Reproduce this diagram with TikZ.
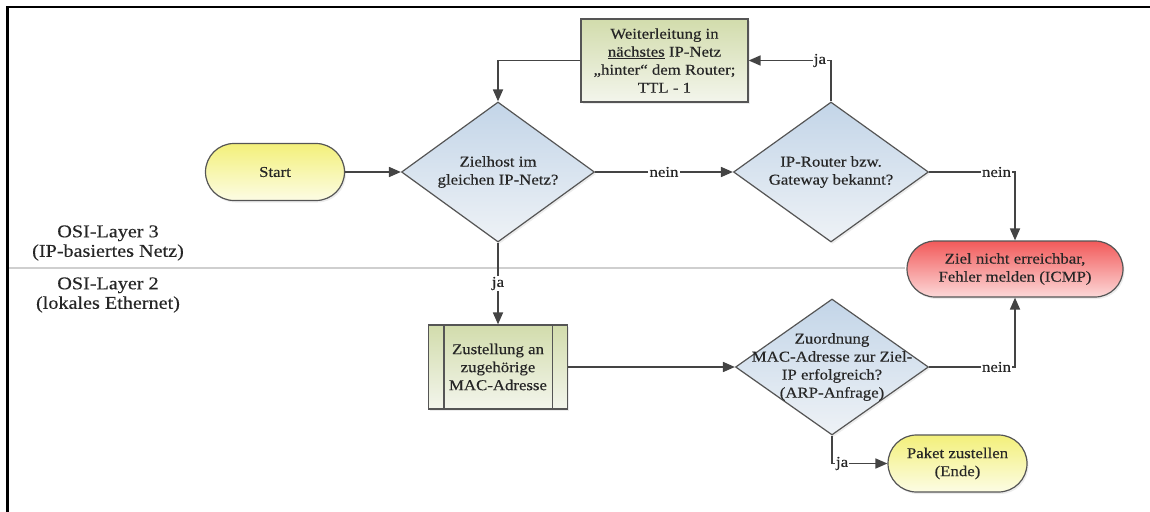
\documentclass[tikz,border=0pt]{standalone}
\usepackage{fontspec}
\setmainfont{Liberation Serif}[FakeStretch=1.12,FakeBold=0.35]
\usetikzlibrary{arrows.meta,shapes.geometric,shapes.misc,shadows}

\definecolor{edgegray}{HTML}{555555}
\definecolor{wire}{HTML}{444444}
\definecolor{ink}{HTML}{262626}
\definecolor{yelTop}{HTML}{F3F07A}
\definecolor{yelBot}{HTML}{FCFCE4}
\definecolor{bluTop}{HTML}{C3D5E8}
\definecolor{bluBot}{HTML}{EEF2F6}
\definecolor{grnTop}{HTML}{D2DCAC}
\definecolor{grnBot}{HTML}{F3F5EC}
\definecolor{redTop}{HTML}{F25A5A}
\definecolor{redBot}{HTML}{FCD8D8}
\definecolor{sepgray}{HTML}{CFCFCF}

\tikzset{
  nodetext/.style={font=\fontsize{15}{18}\selectfont, text=ink, align=center},
  base/.style={draw=edgegray, line width=1.2pt,
    drop shadow={opacity=0.15, shadow xshift=1.5pt, shadow yshift=-2pt}},
  terminal/.style={base, rounded rectangle, minimum width=139pt, minimum height=57pt,
    inner sep=0pt, top color=yelTop, bottom color=yelBot, nodetext},
  alarm/.style={terminal, minimum width=216pt, minimum height=56pt,
    top color=redTop, bottom color=redBot},
  decision/.style={base, diamond, minimum width=193pt, minimum height=140pt,
    inner sep=0pt, top color=bluTop, bottom color=bluBot},
  dtext/.style={nodetext, inner sep=0pt},
  process/.style={base, rectangle, minimum width=167pt, minimum height=83pt,
    inner sep=2pt, top color=grnTop, bottom color=grnBot, nodetext},
  wireline/.style={draw=wire, line width=1.7pt, -{Triangle[length=12pt,width=10pt]}},
  lbl/.style={fill=white, inner sep=1.2pt, font=\fontsize{15}{17}\selectfont, text=ink},
  layer/.style={font=\fontsize{18}{19.5}\selectfont, text=ink, align=center}
}

\begin{document}
\begin{tikzpicture}[x=1pt,y=-1pt]
  \useasboundingbox (0,0) rectangle (1150,511);
  % open frame: top and left edge
  \draw[line width=2.6pt, black] (7.5,512) -- (7.5,7.2) -- (1151,7.2);

  % layer separator and layer captions
  \draw[sepgray, line width=2pt] (9,268) -- (905,268);
  \node[layer] (l3) at (108,243) {OSI-Layer 3\\(IP-basiertes Netz)};
  \node[layer] (l2) at (108,295) {OSI-Layer 2\\(lokales Ethernet)};

  % flow elements
  \node[terminal] (start) at (275,172) {Start};
  \node[decision] (d1) at (498,172) {};
  \node[dtext] (d1t) at (d1) {Zielhost im\\gleichen IP-Netz?};
  \node[decision, minimum width=195pt] (d2) at (831,172) {};
  \node[dtext] (d2t) at (d2) {IP-Router bzw.\\Gateway bekannt?};
  \node[process] (weiter) at (664.5,60.5)
    {Weiterleitung in\\\underline{nächstes} IP-Netz\\„hinter“ dem Router;\\TTL - 1};
  \node[alarm] (icmp) at (1015,269) {Ziel nicht erreichbar,\\Fehler melden (ICMP)};
  \node[process, minimum width=139pt, minimum height=84pt] (mac) at (498,367)
    {Zustellung an\\zugehörige\\MAC-Adresse};
  \draw[edgegray, line width=1.2pt] ([xshift=16pt]mac.north west) -- ([xshift=16pt]mac.south west);
  \draw[edgegray, line width=1.2pt] ([xshift=-16pt]mac.north east) -- ([xshift=-16pt]mac.south east);
  \node[decision, minimum height=136pt] (d3) at (832,367) {};
  \node[dtext] (d3t) at (d3) {Zuordnung\\MAC-Adresse zur Ziel-\\IP erfolgreich?\\(ARP-Anfrage)};
  \node[terminal] (paket) at (957.5,463.5) {Paket zustellen\\(Ende)};

  % connectors
  \draw[wireline] (start.east) -- (d1.west);
  \draw[wireline] (d1.east) -- node[lbl] {nein} (d2.west);
  \draw[wireline] (d2.east) -| node[lbl, pos=0.5, anchor=east, xshift=-2pt] {nein} (icmp.north);
  \draw[wireline] (d2.north) |- node[lbl, pos=0.5, anchor=east, xshift=-3pt] {ja} (weiter.east);
  \draw[wireline] (weiter.west) -| (d1.north);
  \draw[wireline] (d1.south) -- node[lbl] {ja} (mac.north);
  \draw[wireline] (mac.east) -- (d3.west);
  \draw[wireline] (d3.east) -| node[lbl, pos=0.5, anchor=east, xshift=-2pt] {nein} (icmp.south);
  \draw[wireline] (d3.south) |- node[lbl, pos=0.5, anchor=west, xshift=2pt] {ja} (paket.west);
\end{tikzpicture}
\end{document}
